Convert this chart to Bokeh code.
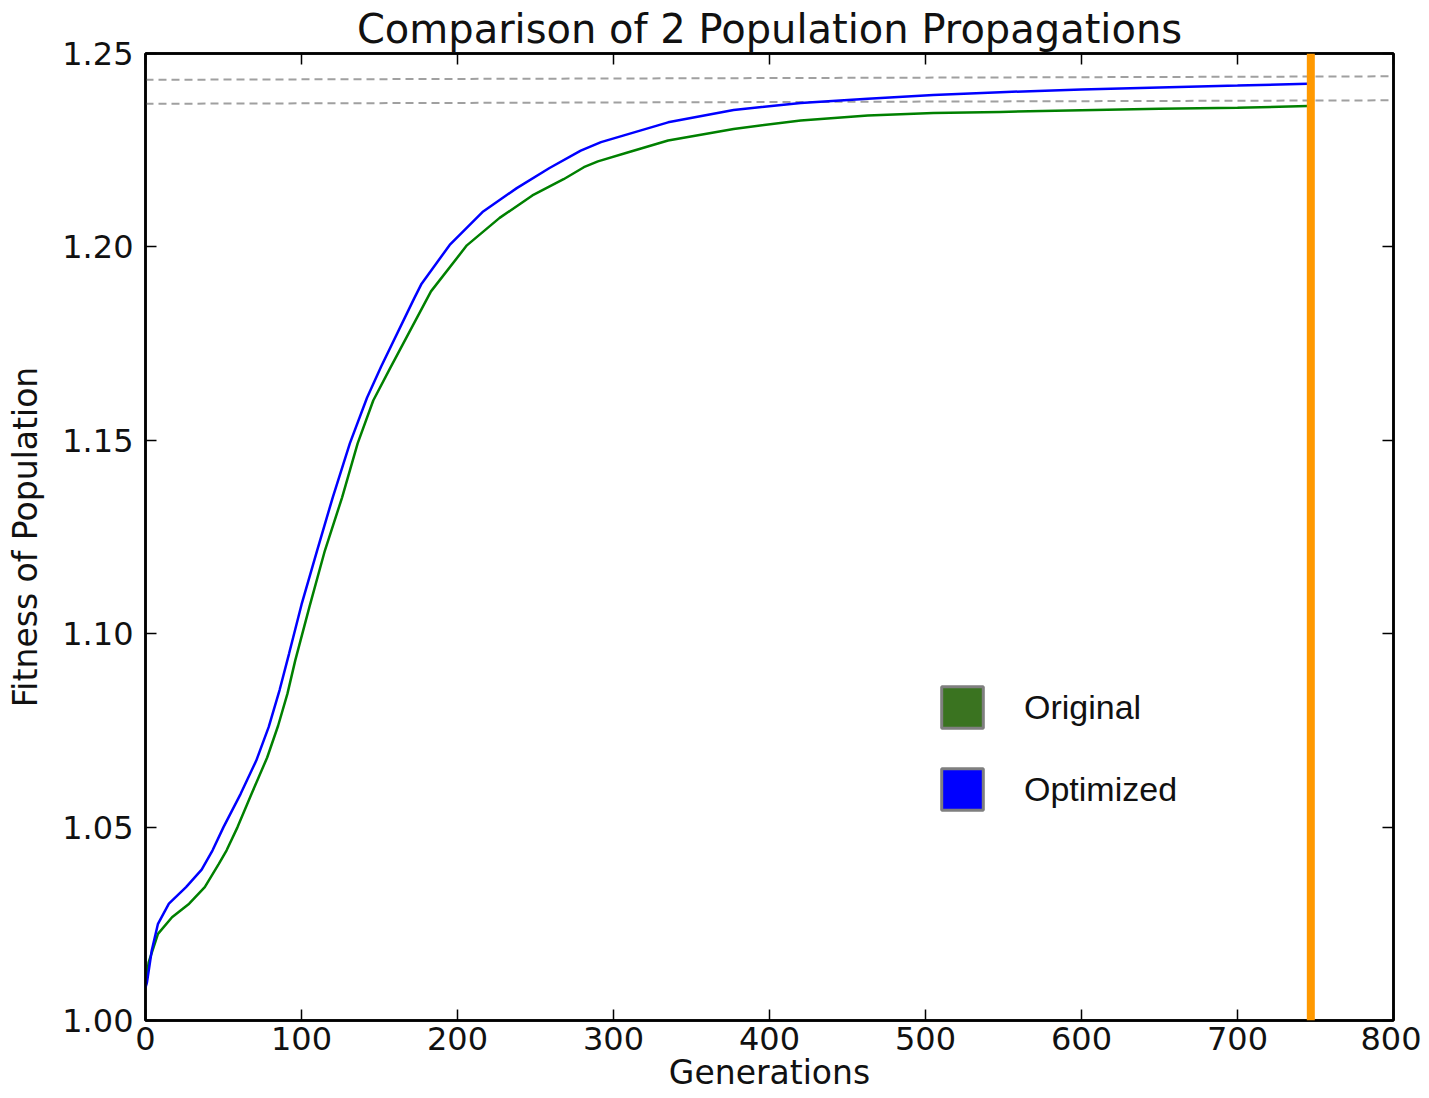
from bokeh.plotting import figure
from bokeh.models import (Range1d, FixedTicker, PrintfTickFormatter, LinearAxis, Span,
                          Legend, LegendItem, ColumnDataSource, CustomJSTickFormatter)
from bokeh.embed import file_html
from bokeh.resources import INLINE

# ---------------- data ----------------
gen_optimized = [0, 1, 4, 8, 15, 26, 36, 43, 50, 61, 71, 79, 86, 92, 100, 110, 120, 131, 142,
                 151, 172, 177, 195, 216, 238, 259, 279, 292, 335, 377, 420, 463, 505, 548,
                 600, 650, 700, 745]
fit_optimized = [1.0085, 1.0100, 1.0181, 1.0250, 1.0302, 1.0345, 1.0390, 1.0440, 1.0500, 1.0586,
                 1.0672, 1.0759, 1.0855, 1.0948, 1.1075, 1.1215, 1.1352, 1.1492, 1.1610,
                 1.1690, 1.1865, 1.1905, 1.2005, 1.2090, 1.2152, 1.2204, 1.2249, 1.2271,
                 1.2322, 1.2354, 1.2372, 1.2383, 1.2393, 1.2400, 1.2407, 1.2412, 1.2417, 1.2422]

gen_original = [0, 2, 8, 17, 28, 38, 47, 52, 59, 68, 78, 85, 91, 96, 105, 115, 126, 136, 146,
                157, 183, 206, 227, 248, 268, 281, 290, 309, 335, 377, 420, 463, 505, 548,
                600, 650, 700, 745]
fit_original = [1.0085, 1.0150, 1.0224, 1.0267, 1.0302, 1.0345, 1.0405, 1.0440, 1.0500, 1.0586,
                1.0680, 1.0762, 1.0845, 1.0931, 1.1068, 1.1215, 1.1352, 1.1492, 1.1603,
                1.1688, 1.1885, 1.2004, 1.2075, 1.2133, 1.2175, 1.2206, 1.2221, 1.2244,
                1.2275, 1.2305, 1.2327, 1.2340, 1.2346, 1.2349, 1.2353, 1.2357, 1.2360, 1.2364]

dash_x = [0, 800]
dash_upper = [1.2432, 1.2441]
dash_lower = [1.2370, 1.2379]

marker_gen = 747

x_ticks = [0, 100, 200, 300, 400, 500, 600, 700, 800]
y_ticks = [1.00, 1.05, 1.10, 1.15, 1.20, 1.25]

series_labels = ["Original", "Optimized"]
title_text = "Comparison of 2 Population Propagations"
x_label = "Generations"
y_label = "Fitness of Population"

# ---------------- figure ----------------
p = figure(width=1421, height=1094, output_backend="svg", toolbar_location=None,
           x_range=Range1d(0, 800), y_range=Range1d(1.0, 1.25),
           min_border_left=145, min_border_right=28, min_border_top=53, min_border_bottom=70,
           x_axis_type=None, y_axis_type=None)

p.title.text = title_text
p.title.text_font = "DejaVu Sans"
p.title.text_font_size = "40px"
p.title.text_font_style = "normal"
p.title.text_color = "#111111"
p.title.align = "center"
p.title.vertical_align = "top"
p.title.standoff = 0
p.title.offset = 0

p.grid.visible = False
p.outline_line_color = "black"
p.outline_line_width = 2.5
p.background_fill_color = "white"
p.border_fill_color = "white"

def make_axis(ticks, fmt, label, show_labels):
    ax = LinearAxis(ticker=FixedTicker(ticks=ticks))
    ax.major_tick_in = 11
    ax.major_tick_out = 0
    ax.major_tick_line_color = "black"
    ax.major_tick_line_width = 1.5
    ax.minor_tick_line_color = None
    ax.axis_line_color = "black"
    ax.axis_line_width = 2.5
    if show_labels:
        ax.formatter = PrintfTickFormatter(format=fmt)
        ax.major_label_text_font = "DejaVu Sans"
        ax.major_label_text_font_size = "32px"
        ax.major_label_text_color = "#111111"
        ax.axis_label = label
        ax.axis_label_text_font = "DejaVu Sans"
        ax.axis_label_text_font_size = "33px"
        ax.axis_label_text_font_style = "normal"
        ax.axis_label_text_color = "#111111"
    else:
        ax.formatter = CustomJSTickFormatter(code="return ''")
        ax.major_label_standoff = 0
    return ax

xb = make_axis(x_ticks, "%d", x_label, True)
xb.major_label_standoff = 6
xb.axis_label_standoff = 0
p.add_layout(xb, "below")

yl = make_axis(y_ticks, "%.2f", y_label, True)
yl.major_label_standoff = 12
yl.axis_label_standoff = 14
p.add_layout(yl, "left")

p.add_layout(make_axis(x_ticks, "%d", "", False), "above")
p.add_layout(make_axis(y_ticks, "%.2f", "", False), "right")

# dashed reference lines
p.line(dash_x, dash_upper, line_color="#a0a0a0", line_width=2, line_dash="8 5")
p.line(dash_x, dash_lower, line_color="#a0a0a0", line_width=2, line_dash="8 5")

# curves
p.line(gen_original, fit_original, line_color="#008000", line_width=2.5)
p.line(gen_optimized, fit_optimized, line_color="#0000ff", line_width=2.5)

# orange vertical marker
p.add_layout(Span(location=marker_gen, dimension="height", line_color="#ff9900", line_width=8))

# legend (square swatches via proxy renderers that draw nothing in the plot)
nan = float("nan")
proxy = ColumnDataSource(data=dict(x=[nan], y=[nan]))
r_orig = p.rect(x="x", y="y", width=1, height=1, source=proxy,
                fill_color="#3a7320", line_color="#7f7f7f", line_width=3)
r_opt = p.rect(x="x", y="y", width=1, height=1, source=proxy,
               fill_color="#0000ff", line_color="#7f7f7f", line_width=3)
legend = Legend(items=[LegendItem(label=series_labels[0], renderers=[r_orig]),
                       LegendItem(label=series_labels[1], renderers=[r_opt])],
                location=(791, 205))
legend.glyph_width = 52
legend.glyph_height = 52
legend.spacing = 30
legend.label_standoff = 36
legend.label_text_font = "Liberation Sans"
legend.label_text_font_size = "34px"
legend.label_text_color = "#111111"
legend.padding = 0
legend.margin = 0
legend.border_line_alpha = 0
legend.background_fill_alpha = 0
p.add_layout(legend)

open("out.html", "w").write(file_html(p, INLINE))
